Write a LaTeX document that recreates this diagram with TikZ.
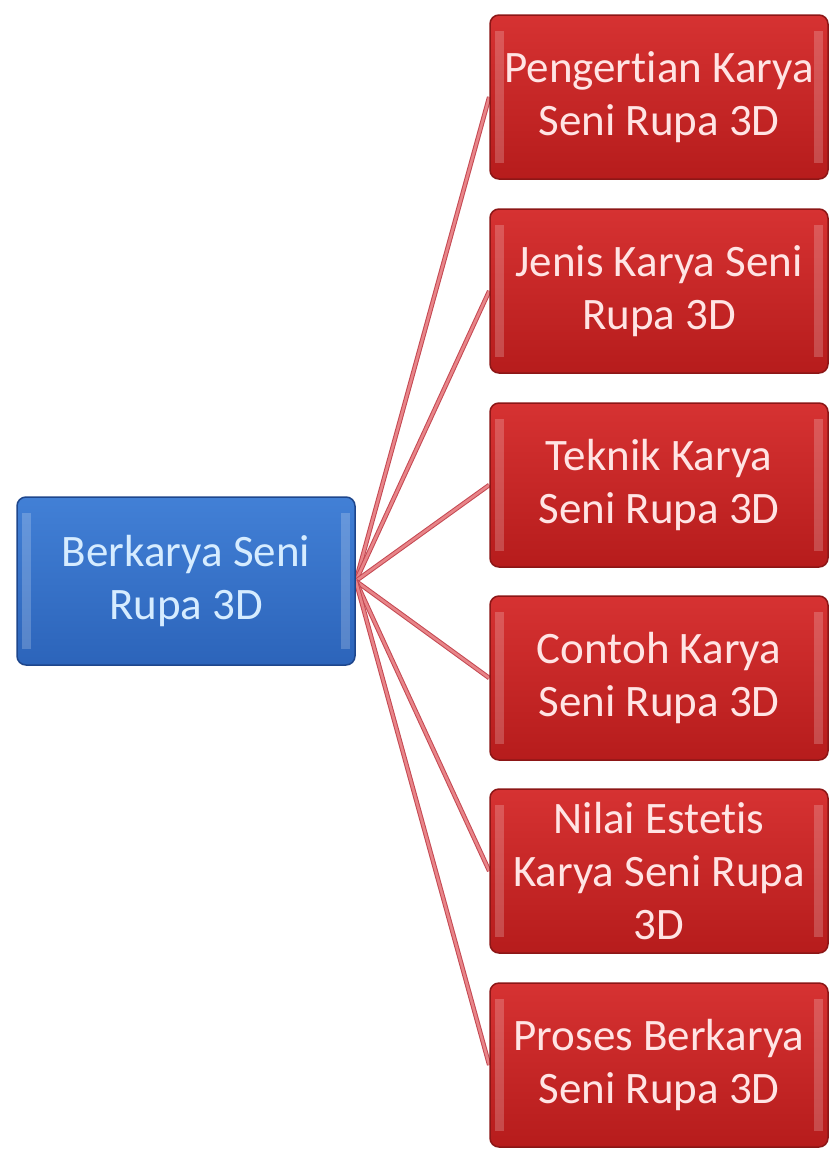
\documentclass[tikz,border=0pt]{standalone}
\usepackage{fontspec}
\setmainfont{Carlito}[Ligatures=NoCommon]
\usetikzlibrary{backgrounds}
\definecolor{merahatas}{RGB}{214,50,50}
\definecolor{merahbawah}{RGB}{182,28,28}
\definecolor{merahgaris}{RGB}{140,22,22}
\definecolor{biruatas}{RGB}{66,128,214}
\definecolor{birubawah}{RGB}{44,100,186}
\definecolor{birugaris}{RGB}{30,70,140}
\definecolor{garispink}{RGB}{232,132,136}
\definecolor{garistepi}{RGB}{196,72,82}
\tikzset{
  kotak/.style={rounded corners=9pt, minimum width=338pt, minimum height=164pt,
    align=center, line width=1.5pt, font=\fontsize{45}{53}\selectfont,
    path picture={
      \fill[white, opacity=0.2, sharp corners] ([xshift=5pt, yshift=-16pt]path picture bounding box.north west)
        rectangle ([xshift=14pt, yshift=16pt]path picture bounding box.south west);
      \fill[white, opacity=0.2, sharp corners] ([xshift=-14pt, yshift=-16pt]path picture bounding box.north east)
        rectangle ([xshift=-5pt, yshift=16pt]path picture bounding box.south east);
    }},
  kotakmerah/.style={kotak, draw=merahgaris, top color=merahatas, bottom color=merahbawah,
    text={rgb,255:red,255;green,228;blue,228}},
  kotakbiru/.style={kotak, minimum height=168pt, draw=birugaris, top color=biruatas,
    bottom color=birubawah, text={rgb,255:red,214;green,236;blue,255}},
  cabang/.style={draw=garistepi, line width=1pt, double=garispink, double distance=2.6pt}
}
\begin{document}
\begin{tikzpicture}[x=1pt, y=-1pt]
  \useasboundingbox (0,0) rectangle (830,1149);

  % Kotak utama
  \node[kotakbiru] (utama) at (186,581) {Berkarya Seni\\Rupa 3D};

  % Kotak sub-topik
  \node[kotakmerah] (pengertian) at (659,97)   {Pengertian Karya\\Seni Rupa 3D};
  \node[kotakmerah] (jenis)      at (659,291)  {Jenis Karya Seni\\Rupa 3D};
  \node[kotakmerah] (teknik)     at (659,485)  {Teknik Karya\\Seni Rupa 3D};
  \node[kotakmerah] (contoh)     at (659,678)  {Contoh Karya\\Seni Rupa 3D};
  \node[kotakmerah] (nilai)      at (659,871)  {Nilai Estetis\\Karya Seni Rupa\\3D};
  \node[kotakmerah] (proses)     at (659,1065) {Proses Berkarya\\Seni Rupa 3D};

  % Garis dari kotak utama ke tiap sub-topik (di belakang kotak)
  \begin{scope}[on background layer]
    \draw[cabang] (utama.east) -- (pengertian.west);
    \draw[cabang] (utama.east) -- (jenis.west);
    \draw[cabang] (utama.east) -- (teknik.west);
    \draw[cabang] (utama.east) -- (contoh.west);
    \draw[cabang] (utama.east) -- (nilai.west);
    \draw[cabang] (utama.east) -- (proses.west);
  \end{scope}
\end{tikzpicture}
\end{document}
